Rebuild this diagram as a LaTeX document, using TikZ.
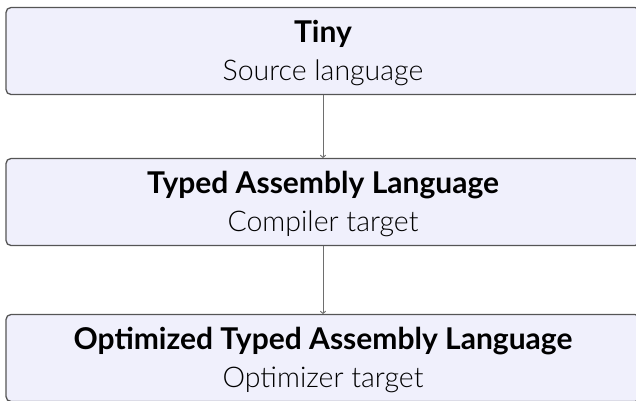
\documentclass[tikz,border=0pt]{standalone}
\usepackage{fontspec}
\setmainfont{Lato}
\newfontfamily\lightfont{Lato Light}
\usetikzlibrary{arrows.meta}
\definecolor{boxfill}{RGB}{240,240,252}
\definecolor{boxline}{RGB}{85,85,85}
\definecolor{arrowline}{RGB}{110,110,110}
\tikzset{
  stage/.style={draw=boxline, line width=1.3pt, fill=boxfill, rounded corners=5pt,
    minimum width=634pt, minimum height=87pt, inner sep=0pt, align=center,
    text height=70pt, text depth=11pt,
    font=\fontsize{30}{38}\selectfont},
  flow/.style={draw=arrowline, line width=0.9pt, -{To[length=3pt,width=6pt]}},
}
\newcommand{\ttl}[1]{\textbf{#1}}
\newcommand{\sub}[1]{{\lightfont\fontsize{28.5}{38}\selectfont #1}}
\begin{document}
\begin{tikzpicture}[x=1pt,y=1pt]
\useasboundingbox (0,0) rectangle (636,-400);
\node[stage] (tiny) at (323,-51) {\ttl{Tiny}\\\sub{Source language}};
\node[stage] (tal) at (323,-202) {\ttl{Typed Assembly Language}\\\sub{Compiler target}};
\node[stage] (otal) at (323,-358) {\ttl{Optimized Typed Assembly Language}\\\sub{Optimizer target}};
\draw[flow] (tiny) -- (tal);
\draw[flow] (tal) -- (otal);
\end{tikzpicture}
\end{document}
